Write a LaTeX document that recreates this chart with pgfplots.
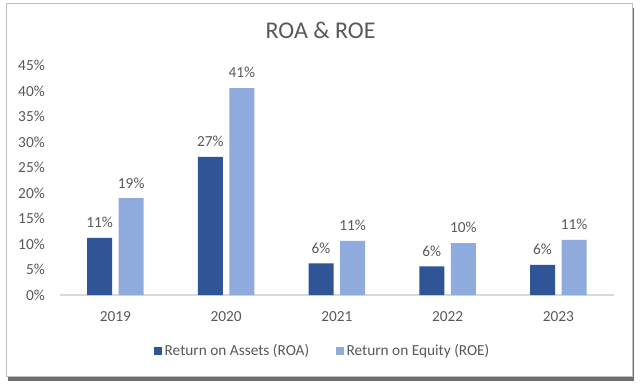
\documentclass[border=0pt]{standalone}
\usepackage{pgfplots}
\pgfplotsset{compat=1.18}
\usepackage{fontspec}
\setmainfont{Carlito}
\usetikzlibrary{shadows}
\definecolor{roa}{HTML}{2F5597}
\definecolor{roe}{HTML}{8FAADC}
\definecolor{txt}{HTML}{595959}
\definecolor{axl}{HTML}{D9D9D9}
\begin{document}
\begin{tikzpicture}
\useasboundingbox (0,0) rectangle (480pt,292.5pt);
\fill[white] (0,0) rectangle (480pt,292.5pt);
\draw[draw=black!25, fill=white, drop shadow={shadow xshift=1.5pt, shadow yshift=-3.5pt, opacity=0.75, fill=black!75}] (4.5pt,10.5pt) rectangle (474pt,290.25pt);
\node[text=txt, font=\fontsize{18}{21}\selectfont, anchor=center] at (240.4pt,270pt) {ROA \& ROE};
\begin{axis}[
  at={(45pt,71.25pt)}, anchor=south west,
  scale only axis, width=415.3pt, height=172pt,
  ybar=5pt, bar width=18.75pt,
  xmin=-0.5, xmax=4.5, ymin=0, ymax=45,
  xtick=data, xticklabels={2019,2020,2021,2022,2023},
  ytick={0,5,...,45},
  yticklabel={\pgfmathprintnumber[assume math mode=true]{\tick}\%},
  major tick length=0pt,
  axis x line*=bottom, axis y line*=left,
  x axis line style={draw=axl, line width=0.8pt, -},
  y axis line style={draw=none},
  ytick style={draw=none}, xtick style={draw=none},
  tick label style={text=txt, font=\fontsize{11.5}{13}\selectfont},
  xticklabel style={anchor=center, inner sep=0pt, yshift=-16.3pt},
  yticklabel style={anchor=east, inner sep=0pt, xshift=-11.25pt},
  nodes near coords={\pgfmathprintnumber[fixed,precision=0,assume math mode=true]{\pgfplotspointmeta}\%},
  nodes near coords style={anchor=center, inner sep=0pt, yshift=11.5pt, text=txt, font=\fontsize{11.5}{13}\selectfont},
  legend columns=2,
  legend style={at={(0.475,-0.244)}, anchor=center, draw=none, fill=none,
    font=\fontsize{11.5}{13}\selectfont, text=txt,
    /tikz/every even column/.append style={column sep=18pt}},
  legend image code/.code={\fill[#1] (0pt,-3pt) rectangle (6pt,3pt);},
  clip=false,
]
\addplot[fill=roa, draw=none] coordinates {(0,11.2) (1,27.1) (2,6.2) (3,5.6) (4,5.9)};
\addplot[fill=roe, draw=none] coordinates {(0,19.0) (1,40.6) (2,10.6) (3,10.2) (4,10.8)};
\legend{Return on Assets (ROA), Return on Equity (ROE)}
\end{axis}
\end{tikzpicture}
\end{document}
